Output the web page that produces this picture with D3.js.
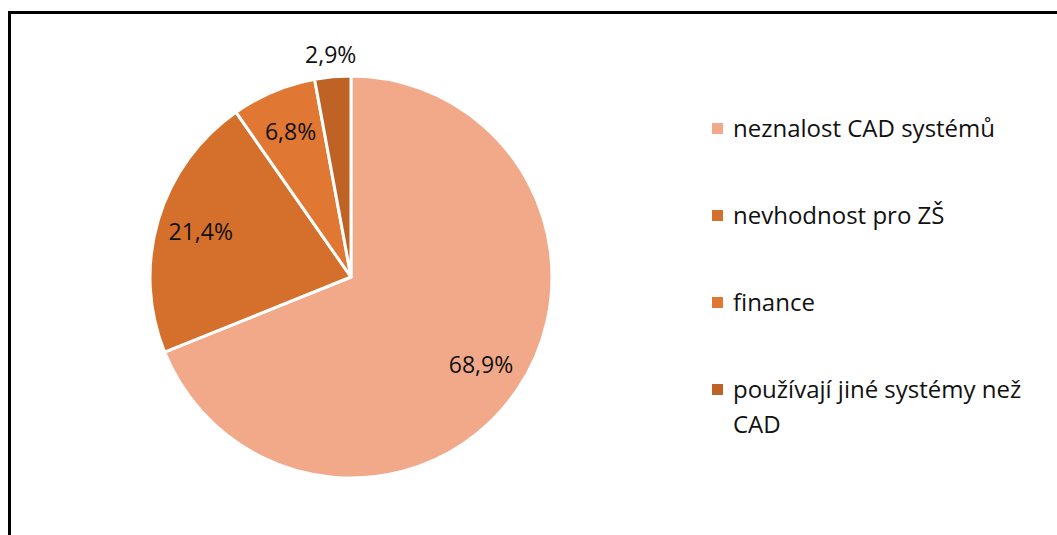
<!DOCTYPE html>
<html>
	<head>
		<meta charset="utf-8">
		<style>
			body, html { margin: 0; padding: 0; background: #fff; }
		</style>
	</head>
	<body>
		<svg id="svg" width="1057" height="535"></svg>

		<script src="https://d3js.org/d3.v7.min.js"></script>
		<script>
			// Data
			const categories = ['neznalost CAD systémů', 'nevhodnost pro ZŠ', 'finance', 'používají jiné systémy než CAD']
			const values = [68.9, 21.4, 6.8, 2.9]
			const labels = ['68,9%', '21,4%', '6,8%', '2,9%']
			const colors = ['#F2A98A', '#D4702C', '#E07732', '#BF6226']

			const svg = d3.select('#svg')
			const font = "'Open Sans', sans-serif"

			// frame (right and bottom edges fall outside the picture)
			svg.append('rect')
				.attr('x', 9.5).attr('y', 12.5)
				.attr('width', 1100).attr('height', 600)
				.attr('fill', 'none')
				.attr('stroke', '#000')
				.attr('stroke-width', 3)

			const cx = 351, cy = 277, r = 201

			const pie = d3.pie().sort(null).value(d => d)
			const arcs = pie(values)
			const arc = d3.arc().innerRadius(0).outerRadius(r)

			const g = svg.append('g').attr('transform', `translate(${cx}, ${cy})`)

			g.selectAll('path')
				.data(arcs)
				.enter()
				.append('path')
				.attr('d', arc)
				.attr('fill', (d, i) => colors[i])
				.attr('stroke', '#fff')
				.attr('stroke-width', 3)
				.attr('stroke-linejoin', 'round')

			// labels inside, small slices outside
			const inner = d3.arc().innerRadius(r * 0.78).outerRadius(r * 0.78)
			const outer = d3.arc().innerRadius(r + 22).outerRadius(r + 22)

			g.selectAll('text')
				.data(arcs)
				.enter()
				.append('text')
				.attr('transform', d => `translate(${(d.data < 5 ? outer : inner).centroid(d)})`)
				.attr('text-anchor', 'middle')
				.attr('dy', '0.35em')
				.attr('font-family', font)
				.attr('font-size', 23)
				.attr('fill', '#111')
				.text((d, i) => labels[i])

			// legend
			const legend = svg.append('g').attr('transform', 'translate(712, 0)')
			const rowY = d3.scalePoint().domain(categories).range([137, 398])

			const rows = legend.selectAll('g')
				.data(categories)
				.enter()
				.append('g')
				.attr('transform', d => `translate(0, ${rowY(d)})`)

			rows.append('rect')
				.attr('x', 0).attr('y', -14)
				.attr('width', 11).attr('height', 11)
				.attr('fill', (d, i) => colors[i])

			// wrap long names so "CAD" goes to the next line like in the original
			rows.each(function (d) {
				const text = d3.select(this).append('text')
					.attr('x', 21)
					.attr('font-family', font)
					.attr('font-size', 24)
					.attr('fill', '#111')
				const words = d.split(' ')
				let line = []
				let tspan = text.append('tspan').attr('x', 21).attr('dy', 0)
				words.forEach(w => {
					line.push(w)
					tspan.text(line.join(' '))
					if (tspan.node().getComputedTextLength() > 305 && line.length > 1) {
						line.pop()
						tspan.text(line.join(' '))
						line = [w]
						tspan = text.append('tspan').attr('x', 21).attr('dy', 35).text(w)
					}
				})
			})
		</script>
	</body>
</html>
